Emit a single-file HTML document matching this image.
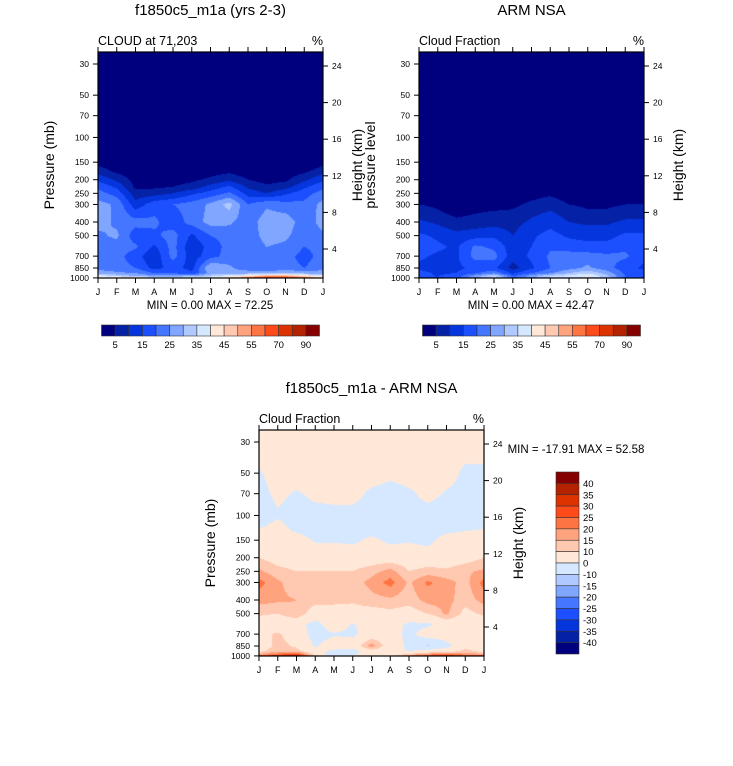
<!DOCTYPE html>
<html><head><meta charset="utf-8">
<style>
html,body{margin:0;padding:0;background:#fff;}
body{width:733px;height:766px;position:relative;overflow:hidden;font-family:"Liberation Sans",sans-serif;}
canvas{position:absolute;}
svg{position:absolute;left:0;top:0;}
</style></head>
<body>
<canvas id="c1" width="225" height="226" style="left:98px;top:52px"></canvas>
<canvas id="c2" width="225" height="226" style="left:419px;top:52px"></canvas>
<canvas id="c3" width="225" height="226" style="left:259px;top:430px"></canvas>
<svg id="ov" width="733" height="766"></svg>
<script>
const months = ["J","F","M","A","M","J","J","A","S","O","N","D","J"];
const pTicks = [30,50,70,100,150,200,250,300,400,500,700,850,1000];
const hTicks = [24,20,16,12,8,4];
const absLevels = [5,10,15,20,25,30,35,40,45,50,55,60,70,80,90];
const absLabels = ["5","15","25","35","45","55","70","90"];
const diffLevels = [-40,-35,-30,-25,-20,-15,-10,0,10,15,20,25,30,35,40];
const diffLabels = ["40","35","30","25","20","15","10","0","-10","-15","-20","-25","-30","-35","-40"];
const colors = ["#00007f","#0521a6","#0535dc","#1c50ff","#4576ff","#80a6ff","#b0c9ff","#d6e8ff","#ffe8d8","#ffc8b0","#ffa27e","#ff7443","#ff4a1a","#dd3300","#b52200","#870000"];

const p1Levels = [30,100,150,175,200,225,250,300,400,500,600,700,850,925,975,1000];
const p1Vals = [
[0,0,0,0,0,0,0,0,0,0,0,0,0],
[0,0,0,0,0,0,0,0,0,0,0,0,0],
[3,1,0,0,0,0,0,0,0,0,0,0,3],
[8,4,2,2,2,2,3,4,2,1,2,4,8],
[14,9,3,3,3,4,6,9,5,3,4,9,14],
[19,14,4,4,5,7,12,16,9,6,8,14,19],
[22,18,7,8,10,14,17,21,13,10,14,18,22],
[27,24,12,18,20,22,26,32,20,24,22,21,27],
[27,24,22,21,17,22,27,26,22,28,28,22,27],
[24,26,17,19,22,14,20,22,22,27,26,22,24],
[22,23,21,14,22,11,17,22,22,25,24,20,22],
[22,22,17,11,22,12,18,22,22,22,22,18,22],
[23,22,20,13,17,13,30,26,22,20,22,20,23],
[28,26,25,20,20,16,27,26,28,28,30,28,28],
[40,35,30,28,28,30,34,40,46,55,55,46,40],
[45,45,48,40,38,40,42,45,60,70,70,60,45]];

const p2Levels = [30,200,250,300,350,400,500,600,700,850,925,975,1000];
const p2Vals = [
[0,0,0,0,0,0,0,0,0,0,0,0,0],
[0,0,0,0,0,0,0,0,0,0,0,0,0],
[2,2,1,1,1,2,3,4,2,1,1,2,2],
[5,4,2,3,3,4,6,8,5,4,4,5,5],
[8,6,4,5,6,6,9,11,8,6,6,8,8],
[11,9,6,7,8,8,11,13,10,9,9,11,11],
[16,14,12,13,14,10,14,17,14,13,13,16,16],
[18,16,14,21,19,12,15,19,18,17,17,19,18],
[16,14,14,22,22,12,16,21,22,22,21,21,16],
[14,12,14,16,16,8,14,20,23,26,22,17,14],
[17,14,15,19,24,14,20,24,30,34,28,19,17],
[16,15,18,28,36,20,28,36,38,42,32,20,16],
[14,14,16,22,30,18,22,28,30,32,26,18,14]];

const p3Levels = [30,50,70,100,125,150,200,250,300,400,500,600,700,850,925,975,1000];
const p3Vals = [
[5,5,5,5,5,5,5,5,5,5,5,5,5],
[-1,4,5,5,5,5,5,3,5,5,4,-2,-2],
[-3,2,-1,2,3,3,-2,-5,-2,3,-1,-3,-3],
[-5,-1,-4,-3,-3,-3,-3,-2,-3,-4,-4,-4,-5],
[0,3,-2,-4,-4,-4,-4,-4,-4,-4,-3,-1,0],
[5,5,4,-1,-1,-2,2,-2,-1,-3,4,5,5],
[10,7,6,6,6,6,6,6,6,6,6,7,10],
[16,12,10,10,10,10,13,17,10,12,11,14,16],
[22,16,12,11,11,12,17,22,14,21,17,13,22],
[17,16,15,12,11,11,13,14,12,17,17,12,17],
[11,10,14,6,8,7,7,8,7,10,16,8,11],
[6,5,4,-4,6,-1,5,5,-2,-2,5,5,6],
[8,11,6,-4,-1,-2,5,5,-3,5,5,5,6],
[5,12,9,-1,5,5,18,5,-2,-11,-3,7,5],
[8,14,12,4,-2,-4,7,4,-1,4,6,12,8],
[16,22,28,6,-6,-3,8,5,12,18,24,18,16],
[30,35,40,15,-5,2,10,8,20,30,35,30,30]];

const W=225,H=226,SCALE=61;
function yOfP(top,p){return top+12+SCALE*Math.log(p/30);}
function pOfRow(r){return 30*Math.exp((r-12)/SCALE);}
function xOfM(left,i){return left+i*W/12;}
function hexRGB(h){return [parseInt(h.substr(1,2),16),parseInt(h.substr(3,2),16),parseInt(h.substr(5,2),16)];}
const rgb=colors.map(hexRGB);
function classify(v,levels){let k=0;while(k<levels.length&&v>=levels[k])k++;return k;}

function drawField(id,levels,vals,bounds){
  const cv=document.getElementById(id),ctx=cv.getContext('2d');
  const img=ctx.createImageData(W,H);
  const lp=levels.map(p=>Math.log(p));
  for(let r=0;r<H;r++){
    let lv=Math.log(Math.min(1000,Math.max(30,pOfRow(r+0.5))));
    let j=0;while(j<lp.length-2&&lv>lp[j+1])j++;
    let ty=(lv-lp[j])/(lp[j+1]-lp[j]);ty=Math.max(0,Math.min(1,ty));
    for(let c=0;c<W;c++){
      let mx=(c+0.5)/W*12;let i=Math.min(11,Math.floor(mx));let tx=mx-i;
      let v=(vals[j][i]*(1-tx)+vals[j][i+1]*tx)*(1-ty)+(vals[j+1][i]*(1-tx)+vals[j+1][i+1]*tx)*ty;
      let col=rgb[classify(v,bounds)];
      let o=(r*W+c)*4;img.data[o]=col[0];img.data[o+1]=col[1];img.data[o+2]=col[2];img.data[o+3]=255;
    }
  }
  ctx.putImageData(img,0,0);
}
drawField('c1',p1Levels,p1Vals,absLevels);
drawField('c2',p2Levels,p2Vals,absLevels);
drawField('c3',p3Levels,p3Vals,diffLevels);

const NS="http://www.w3.org/2000/svg",ov=document.getElementById('ov');
function el(tag,attrs,parent){const e=document.createElementNS(NS,tag);for(const k in attrs)e.setAttribute(k,attrs[k]);(parent||ov).appendChild(e);return e;}
function txt(x,y,s,size,anchor,name,rot){const t=el('text',{x:x,y:y,'font-size':size,'text-anchor':anchor||'start','font-family':'Liberation Sans, sans-serif',fill:'#000'});if(rot)t.setAttribute('transform','rotate(-90 '+x+' '+y+')');t.textContent=s;


return t;}

function hTickY(top,h){return top+14+(24-h)*(183/20);}

function axes(left,top,title,sub,leftLabel,minmax,mmX,mmY,prefix){
  const g=el('g',{});
  
  
  el('rect',{x:left,y:top,width:W,height:H,fill:'none',stroke:'#000','stroke-width':1.2},g);
  months.forEach((m,i)=>{const x=xOfM(left,i);
    el('line',{x1:x,y1:top,x2:x,y2:top-5,stroke:'#000'},g);
    el('line',{x1:x,y1:top+H,x2:x,y2:top+H+5,stroke:'#000'},g);
    txt(x,top+H+17,m,9,'middle',prefix+'-month-label');});
  pTicks.forEach(p=>{const y=yOfP(top,p);
    el('line',{x1:left,y1:y,x2:left-5,y2:y,stroke:'#000'},g);
    txt(left-9,y+3,String(p),8.5,'end',prefix+'-pressure-tick');});
  hTicks.forEach(h=>{const y=hTickY(top,h);
    el('line',{x1:left+W,y1:y,x2:left+W+5,y2:y,stroke:'#000'},g);
    txt(left+W+9,y+3,String(h),8.5,'start',prefix+'-height-tick');});
  if(title)txt(left+W/2,top-37,title,15,'middle',prefix+'-title');
  txt(left,top-7,sub,12.5,'start',prefix+'-subtitle');
  txt(left+W,top-7,'%',12.5,'end',prefix+'-units');
  txt(left-44,top+H/2,leftLabel,14,'middle',prefix+'-y-axis-title',true);
  txt(left+W+39,top+H/2,'Height (km)',14,'middle',prefix+'-right-axis-title',true);
  txt(mmX,mmY,minmax,11.5,'middle',prefix+'-min-max');
}
axes(98,52,'f1850c5_m1a (yrs 2-3)','CLOUD at 71,203','Pressure (mb)','MIN =   0.00 MAX =  72.25',210,309,'model');
axes(419,52,'ARM NSA','Cloud Fraction','pressure level','MIN =   0.00 MAX =  42.47',531,309,'obs');
axes(259,430,'f1850c5_m1a - ARM NSA','Cloud Fraction','Pressure (mb)','MIN = -17.91 MAX =  52.58',576,453,'diff');

function hbar(left,prefix){
  const bw=218/16;
  colors.forEach((c,i)=>{const r=el('rect',{x:left+i*bw,y:325,width:bw,height:11,fill:c,stroke:'#333','stroke-width':0.6});
    
    });
  absLabels.forEach((s,k)=>{txt(left+(2*k+1)*bw,348,s,9.5,'middle',prefix+'-colorbar-label');});
}
hbar(101.5,'model');hbar(422.5,'obs');
(function(){
  const bh=182/16;
  for(let i=0;i<16;i++){const r=el('rect',{x:556,y:472+i*bh,width:23,height:bh,fill:colors[15-i],stroke:'#333','stroke-width':0.6});
    
    }
  diffLabels.forEach((s,k)=>{txt(583,472+(k+1)*bh+3.5,s,9.5,'start','diff-colorbar-label');});
})();
</script>
</body></html>
